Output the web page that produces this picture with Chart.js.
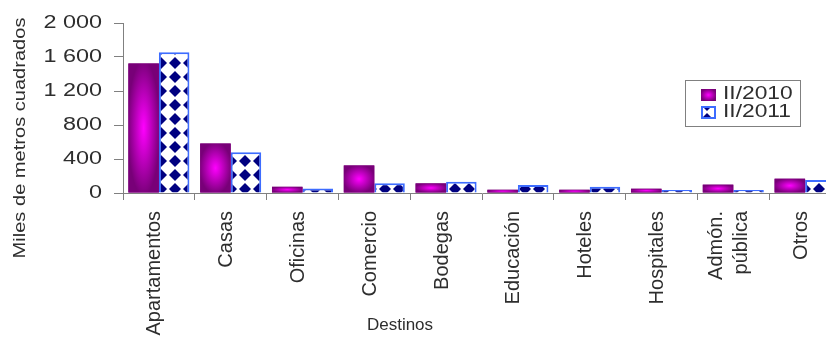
<!DOCTYPE html>
<html>
<head>
<meta charset="utf-8">
<script src="https://cdn.jsdelivr.net/npm/chart.js@4.4.1/dist/chart.umd.min.js"></script>
<style>
  html, body { margin: 0; padding: 0; background: #fff; overflow: hidden; }
  #wrap { width: 850px; height: 340px; }
</style>
</head>
<body>
<div id="wrap"><canvas id="grafico" width="850" height="340"></canvas></div>
<script>
// Área por destino (miles de m²)
const destinos = ['Apartamentos', 'Casas', 'Oficinas', 'Comercio', 'Bodegas', 'Educación', 'Hoteles', 'Hospitales', ['Admón.', 'pública'], 'Otros'];
const serie2010 = [1524, 582, 73, 324, 113, 38, 38, 50, 98, 168];
const serie2011 = [1656, 480, 53, 115, 133, 93, 74, 35, 35, 153];
const nombresSeries = ['II/2010', 'II/2011'];
const ticksY = [0, 400, 800, 1200, 1600, 2000];
const etiquetasY = ['0', '400', '800', '1 200', '1 600', '2 000'];

const FUENTE = '"Liberation Sans", Arial, sans-serif';
const GRIS_EJE = '#808080';
const TEXTO = '#2e2e2e';

// trama de rombos azul oscuro sobre blanco
function crearTrama(ctx) {
    const c = document.createElement('canvas');
    c.width = 14; c.height = 14;
    const g = c.getContext('2d');
    g.fillStyle = '#ffffff';
    g.fillRect(0, 0, 14, 14);
    g.fillStyle = '#000080';
    g.beginPath();
    g.moveTo(7, 1); g.lineTo(13, 7); g.lineTo(7, 13); g.lineTo(1, 7);
    g.closePath();
    g.fill();
    return ctx.createPattern(c, 'repeat');
}

// relleno magenta que aclara hacia el centro
function rellenoCentro(ctx, x, y, w, h) {
    ctx.save();
    ctx.translate(x + w / 2, y + h / 2);
    ctx.scale(w / 2, h / 2);
    const g = ctx.createRadialGradient(0, 0, 0, 0, 0, 1.05);
    g.addColorStop(0, '#ff00ff');
    g.addColorStop(1, '#780078');
    ctx.fillStyle = g;
    ctx.fillRect(-1, -1, 2, 2);
    ctx.restore();
}

// texto con escala opcional en la dirección de la línea base
function texto(ctx, t, x, y, escala, angulo, align, size) {
    ctx.save();
    ctx.translate(x, y);
    ctx.rotate(angulo);
    ctx.scale(escala, 1);
    ctx.font = size + 'px ' + FUENTE;
    ctx.fillStyle = TEXTO;
    ctx.textAlign = align;
    ctx.textBaseline = 'middle';
    ctx.fillText(t, 0, 0);
    ctx.restore();
}

const canvas = document.getElementById('grafico');
const ctx = canvas.getContext('2d');
const trama = crearTrama(ctx);

const barrasDegradado = {
    id: 'barrasDegradado',
    afterDatasetDraw(chart, args) {
        if (args.index !== 0) return;
        args.meta.data.forEach(bar => {
            const p = bar.getProps(['x', 'y', 'base', 'width'], true);
            const top = Math.min(p.y, p.base);
            rellenoCentro(chart.ctx, p.x - p.width / 2, top, p.width, Math.abs(p.base - p.y));
        });
    }
};

const textosEjes = {
    id: 'textosEjes',
    afterDraw(chart) {
        const c = chart.ctx;
        const y = chart.scales.y;
        const x = chart.scales.x;
        ticksY.forEach((v, i) => {
            texto(c, etiquetasY[i], 102, y.getPixelForValue(v), 1.3, 0, 'right', 18);
        });
        texto(c, 'Miles de metros cuadrados', 20, 138, 1.18, -Math.PI / 2, 'center', 17);

        // categorías giradas, terminando junto al eje
        destinos.forEach((d, i) => {
            const lineas = Array.isArray(d) ? d : [d];
            const centro = x.getPixelForTick(i) - 4;
            lineas.forEach((l, j) => {
                const px = centro + (j - (lineas.length - 1) / 2) * 25;
                texto(c, l, px, 211, 1, -Math.PI / 2, 'right', 20);
            });
        });
        texto(c, 'Destinos', 400, 325, 1, 0, 'center', 17);
    }
};

const leyenda = {
    id: 'leyenda',
    afterDraw(chart) {
        const c = chart.ctx;
        c.save();
        c.strokeStyle = GRIS_EJE;
        c.lineWidth = 1;
        c.strokeRect(685.5, 80.5, 115, 46);
        rellenoCentro(c, 701, 89, 15, 12);
        c.fillStyle = trama;
        c.fillRect(701, 106, 15, 13);
        c.strokeStyle = '#3d6cff';
        c.lineWidth = 2;
        c.strokeRect(702, 107, 13, 11);
        c.restore();
        texto(c, nombresSeries[0], 723, 94, 1.2, 0, 'left', 19);
        texto(c, nombresSeries[1], 723, 112, 1.2, 0, 'left', 19);
    }
};

new Chart(ctx, {
    type: 'bar',
    data: {
        labels: destinos,
        datasets: [
            {
                label: nombresSeries[0],
                data: serie2010,
                backgroundColor: '#800080',
                borderWidth: 0,
                barPercentage: 1,
                categoryPercentage: 0.85
            },
            {
                label: nombresSeries[1],
                data: serie2011,
                backgroundColor: trama,
                borderColor: '#3d6cff',
                borderWidth: 2,
                barPercentage: 1,
                categoryPercentage: 0.85
            }
        ]
    },
    options: {
        responsive: false,
        animation: false,
        layout: { padding: { top: 23, right: 9, left: 0, bottom: 0 } },
        plugins: {
            legend: { display: false },
            tooltip: { enabled: false }
        },
        scales: {
            x: {
                offset: true,
                grid: { display: true, drawOnChartArea: false, drawTicks: true, tickLength: 7, offset: true, color: GRIS_EJE },
                border: { color: GRIS_EJE, width: 1 },
                ticks: { display: false, autoSkip: false },
                afterFit(scale) { scale.height = 147; }
            },
            y: {
                min: 0,
                max: 2000,
                afterBuildTicks(scale) { scale.ticks = ticksY.map(v => ({ value: v })); },
                grid: { display: true, drawOnChartArea: false, drawTicks: true, tickLength: 9, color: GRIS_EJE },
                border: { color: GRIS_EJE, width: 1 },
                ticks: { display: false },
                afterFit(scale) { scale.width = 123; }
            }
        }
    },
    plugins: [barrasDegradado, textosEjes, leyenda]
});
</script>
</body>
</html>
